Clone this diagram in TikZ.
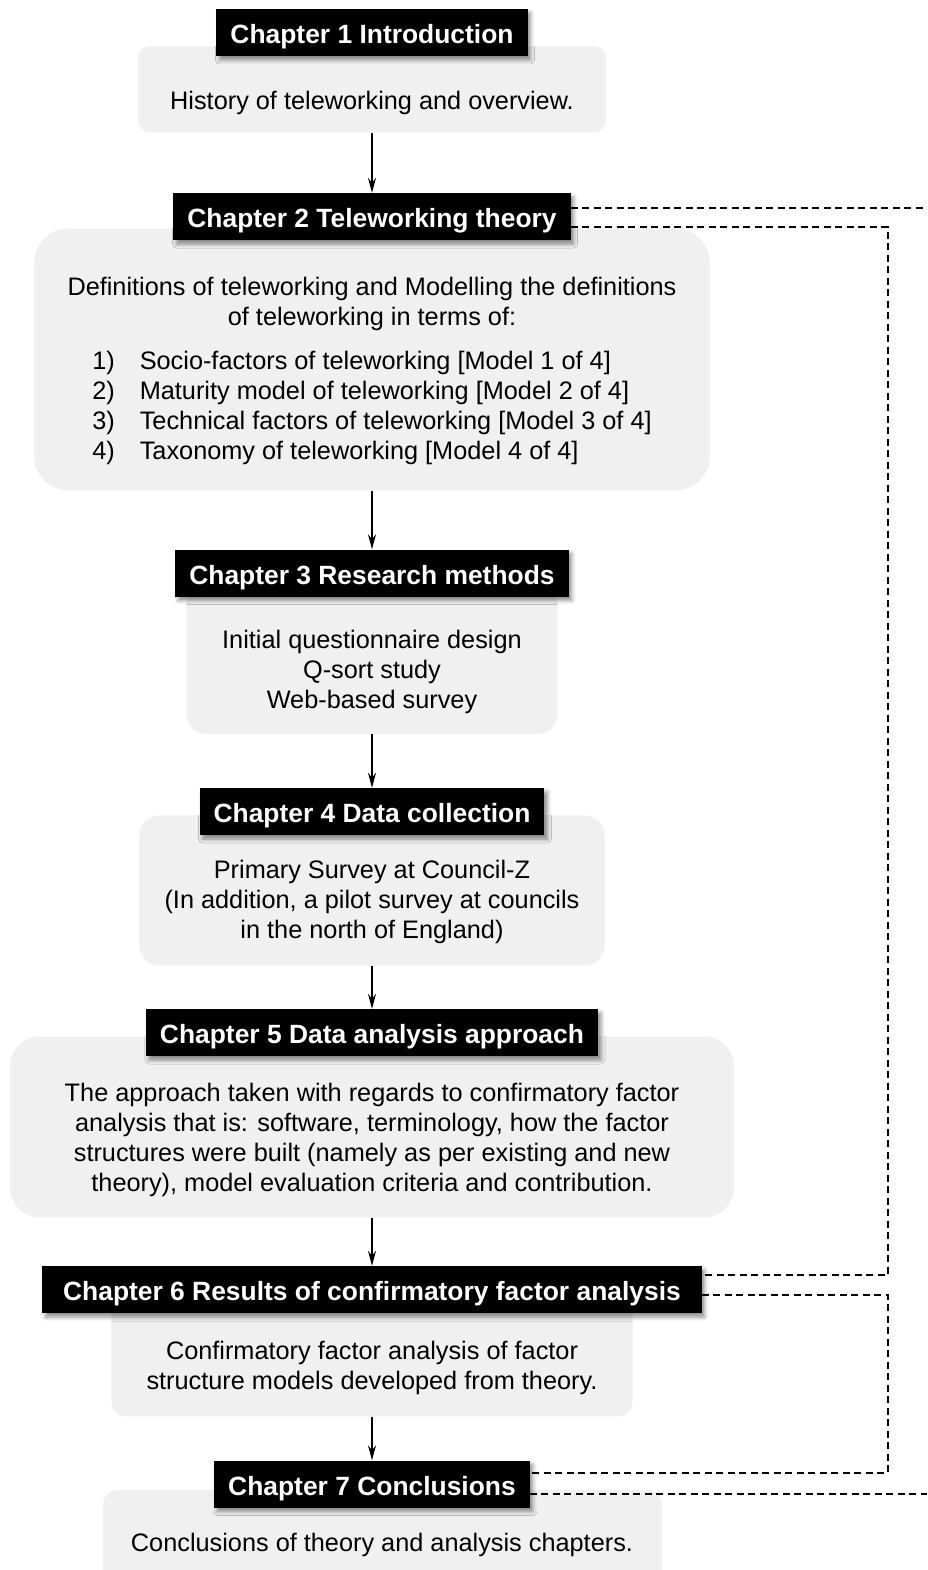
\documentclass[tikz,border=0pt]{standalone}
\usepackage{fontspec}
\setmainfont{Liberation Sans}
\usetikzlibrary{positioning,arrows.meta,backgrounds,shadows.blur}

\begin{document}
\begin{tikzpicture}[x=1pt,y=1pt]
 	\tikzstyle{chap}=[rectangle, fill=black, text=white, font=\fontsize{26.4}{30}\selectfont\bfseries, minimum height=47pt, text height=22pt, text depth=0pt, inner xsep=14pt, inner ysep=0pt, blur shadow={shadow xshift=3pt, shadow yshift=-4pt, shadow blur radius=4pt, shadow opacity=45}]
 	\tikzstyle{body}=[align=center, inner sep=0pt, font=\fontsize{25.3}{30}\selectfont]
 	\tikzstyle{panel}=[rectangle, fill=black!6]
 	\tikzstyle{flow}=[-{Stealth[length=15pt,width=8pt,inset=5pt]}, line width=1.6pt]
 	\tikzstyle{link}=[dash pattern=on 7pt off 4.5pt, line width=1.2pt]
 	\useasboundingbox (-372,0) rectangle (555,-1570);
 	\node[chap] (t1) at (0,-32.5) {Chapter 1 Introduction};
 	\node[chap] (t2) [on grid, below=184pt of t1] {Chapter 2 Teleworking theory};
 	\node[chap] (t3) [on grid, below=356.5pt of t2] {Chapter 3 Research methods};
 	\node[chap] (t4) [on grid, below=238.5pt of t3] {Chapter 4 Data collection};
 	\node[chap] (t5) [on grid, below=221pt of t4] {Chapter 5 Data analysis approach};
 	\node[chap, minimum width=659pt] (t6) [on grid, below=257pt of t5] {Chapter 6 Results of confirmatory factor analysis};
 	\node[chap] (t7) [on grid, below=194.5pt of t6] {Chapter 7 Conclusions};
 	\node[body] (x1) [on grid, below=70pt of t1] {History of teleworking and overview.};
 	\node[body] (x2) [on grid, below=156pt of t2] {Definitions of teleworking and Modelling the definitions\\of teleworking in terms of:\\[14pt]\begin{tabular}[t]{@{}l@{\hspace{25pt}}l@{}}1) & Socio-factors of teleworking [Model 1 of 4]\\2) & Maturity model of teleworking [Model 2 of 4]\\3) & Technical factors of teleworking [Model 3 of 4]\\4) & Taxonomy of teleworking [Model 4 of 4]\end{tabular}};
 	\node[body] (x3) [on grid, below=99pt of t3] {Initial questionnaire design\\Q-sort study\\Web-based survey};
 	\node[body] (x4) [on grid, below=90.5pt of t4] {Primary Survey at Council-Z\\(In addition, a pilot survey at councils\\in the north of England)};
 	\node[body] (x5) [on grid, below=107pt of t5] {The approach taken with regards to confirmatory factor\\analysis that is: software, terminology, how the factor\\structures were built (namely as per existing and new\\theory), model evaluation criteria and contribution.};
 	\node[body] (x6) [on grid, below=78.5pt of t6] {Confirmatory factor analysis of factor\\structure models developed from theory.};
 	\node[body] (x7) [on grid, below=60.5pt of t7, xshift=10pt] {Conclusions of theory and analysis chapters.};
 	\begin{scope}[on background layer]
 	\node[panel, rounded corners=12pt, minimum width=468pt, minimum height=86pt] (p1) [below=-10pt of t1] {};
 	\node[panel, rounded corners=35pt, minimum width=676pt, minimum height=262pt] (p2) [below=-12pt of t2] {};
 	\node[panel, rounded corners=20pt, minimum width=371pt, minimum height=148pt] (p3) [below=-11pt of t3] {};
 	\node[panel, rounded corners=20pt, minimum width=465pt, minimum height=150pt] (p4) [below=-20pt of t4] {};
 	\node[panel, rounded corners=30pt, minimum width=724pt, minimum height=181pt] (p5) [below=-20pt of t5] {};
 	\node[panel, rounded corners=15pt, minimum width=521pt, minimum height=121pt] (p6) [below=-18pt of t6] {};
 	\node[panel, rounded corners=15pt, minimum width=559pt, minimum height=120pt, xshift=10.5pt] (p7) [below=-18pt of t7] {};
 	\end{scope}
 	\coordinate (bus) at (516,0);
 	\coordinate (rim) at (555,0);
 	\path (p1) edge [flow] (t2)
 	(p2) edge [flow] (t3)
 	(p3) edge [flow] (t4)
 	(p4) edge [flow] (t5)
 	(p5) edge [flow] (t6)
 	(p6) edge [flow] (t7);
 	\draw[link] ([yshift=8.5pt]t2.east) -- ([yshift=8.5pt]t2.east -| rim);
 	\draw[link] ([yshift=-10.5pt]t2.east) -| ([yshift=14.5pt]t6.east -| bus) -- ([yshift=14.5pt]t6.east);
 	\draw[link] ([yshift=-5.5pt]t6.east) -| ([yshift=11pt]t7.east -| bus) -- ([yshift=11pt]t7.east);
 	\draw[link] ([yshift=-10pt]t7.east) -- ([yshift=-10pt]t7.east -| rim);
\end{tikzpicture}
\end{document}
